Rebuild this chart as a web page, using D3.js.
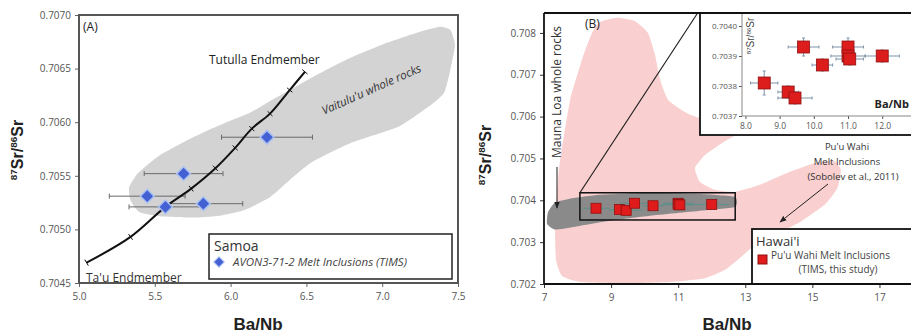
<!DOCTYPE html>
<html>
<head>
<meta charset="utf-8">
<script src="https://cdn.jsdelivr.net/npm/d3@7"></script>
<style>
  body { margin: 0; background: #fff; }
  svg text { font-family: "Open Sans", "Liberation Sans", sans-serif; }
</style>
</head>
<body>
<svg id="chart" width="911" height="335"></svg>
<script>
// ---- panel A : Samoa ----
const samoaBaNb = [6.24, 5.69, 5.45, 5.57, 5.82];
const samoaSr = [0.70586, 0.70552, 0.70531, 0.70521, 0.70524];
const samoaErr = [0.30, 0.26, 0.25, 0.24, 0.26];

// Ta'u -> Tutuila mixing line, read at the tick marks
const mixBaNb = [5.05, 5.34, 5.57, 5.74, 5.90, 6.03, 6.14, 6.26, 6.39, 6.49];
const mixSr = [0.70469, 0.70493, 0.70521, 0.70538, 0.70557, 0.70576, 0.70594, 0.70608, 0.70630, 0.70647];

// Vaitulu'u whole rock field outline
const vaiBaNb = [5.34, 5.33, 5.38, 5.45, 5.53, 5.71, 5.86, 6.01, 6.13, 6.24, 6.39, 6.54, 6.76, 7.03, 7.24, 7.38, 7.45, 7.48, 7.45, 7.41, 7.33, 7.11, 6.80, 6.54, 6.39, 6.26, 6.09, 5.94, 5.77, 5.55, 5.40];
const vaiSr = [0.70527, 0.70539, 0.70551, 0.70560, 0.70569, 0.70583, 0.70593, 0.70602, 0.70609, 0.70618, 0.70630, 0.70642, 0.70658, 0.70674, 0.70684, 0.70689, 0.70686, 0.70672, 0.70649, 0.70628, 0.70617, 0.70596, 0.70581, 0.70563, 0.70546, 0.70530, 0.70518, 0.70513, 0.70511, 0.70512, 0.70516];

const xTicksA = [5.0, 5.5, 6.0, 6.5, 7.0, 7.5];
const yTicksA = [0.7045, 0.7050, 0.7055, 0.7060, 0.7065, 0.7070];

// ---- panel B : Hawaii ----
const puuBaNb = [8.55, 9.25, 9.45, 9.70, 10.25, 11.0, 11.0, 11.05, 12.0];
const puuSr = [0.70381, 0.70378, 0.70376, 0.70393, 0.70387, 0.70393, 0.70390, 0.70389, 0.70390];
const puuErrX = [0.4, 0.3, 0.5, 0.45, 0.3, 0.45, 0.5, 0.4, 0.5];
const puuErrY = [0.00004, 0.00002, 0.00002, 0.00003, 0.00002, 0.00003, 0.00002, 0.00002, 0.00002];

// Pu'u Wahi melt inclusions (Sobolev et al., 2011) field
const sobBaNb = [8.67, 9.18, 9.71, 10.10, 10.31, 10.46, 10.70, 11.20, 11.65, 13.14, 13.14, 12.75, 12.31, 11.80, 11.50, 11.65, 12.10, 12.69, 13.44, 14.33, 15.10, 15.65, 15.85, 15.75, 15.40, 14.63, 13.89, 13.29, 12.84, 12.40, 11.80, 10.76, 9.27, 8.07, 7.54, 7.36, 7.33, 7.39, 7.48, 7.78, 8.16, 8.43];
const sobSr = [0.70826, 0.70836, 0.70828, 0.70800, 0.70747, 0.70688, 0.70640, 0.70611, 0.70597, 0.70587, 0.70556, 0.70556, 0.70537, 0.70508, 0.70477, 0.70444, 0.70425, 0.70420, 0.70437, 0.70468, 0.70490, 0.70494, 0.70473, 0.70430, 0.70392, 0.70348, 0.70317, 0.70293, 0.70262, 0.70234, 0.70214, 0.70205, 0.70202, 0.70205, 0.70219, 0.70257, 0.70329, 0.70425, 0.70496, 0.70640, 0.70743, 0.70800];

// Mauna Loa whole rock field
const mlBaNb = [7.12, 7.33, 7.78, 8.67, 10.16, 11.65, 12.69, 12.69, 11.65, 10.16, 8.97, 7.93, 7.33, 7.09];
const mlSr = [0.70372, 0.70395, 0.70404, 0.70413, 0.70418, 0.70415, 0.70408, 0.70384, 0.70375, 0.70363, 0.70351, 0.70337, 0.70330, 0.70344];

const zoomBoxBaNb = [8.07, 12.70];
const zoomBoxSr = [0.70353, 0.70418];

const xTicksB = [7, 9, 11, 13, 15, 17];
const yTicksB = [0.702, 0.703, 0.704, 0.705, 0.706, 0.707, 0.708];
const xTicksInset = [8, 9, 10, 11, 12];
const yTicksInset = [0.7037, 0.7038, 0.7039, 0.7040];

const svg = d3.select("#chart");

const defs = svg.append("defs");
defs.append("marker")
    .attr("id", "arrow")
    .attr("viewBox", "0 0 10 10")
    .attr("refX", 9).attr("refY", 5)
    .attr("markerWidth", 7).attr("markerHeight", 7)
    .attr("orient", "auto-start-reverse")
  .append("path")
    .attr("d", "M0,1 L10,5 L0,9 z")
    .attr("fill", "#222");

const styleAxis = (g, color) => {
    g.select(".domain").remove();
    g.selectAll(".tick line").attr("stroke", color);
    g.selectAll(".tick text")
        .attr("fill", "#555")
        .style("font-size", "10px");
}

const isoTitle = (g, x, y, size) => {
    const t = g.append("text")
        .attr("transform", `translate(${x},${y}) rotate(-90)`)
        .attr("text-anchor", "middle")
        .style("font-family", "Liberation Sans, Arial, sans-serif")
        .style("font-weight", "bold")
        .style("font-size", size + "px")
        .attr("fill", "#222");
    t.append("tspan").text("87").style("font-size", (size * 0.62) + "px").attr("dy", -size * 0.35);
    t.append("tspan").text("Sr/").attr("dy", size * 0.35);
    t.append("tspan").text("86").style("font-size", (size * 0.62) + "px").attr("dy", -size * 0.35);
    t.append("tspan").text("Sr").attr("dy", size * 0.35);
    return t;
}

const errorBars = (g, xs, ys, ex, ey, x, y, color, cap) => {
    xs.forEach((v, i) => {
        g.append("line")
            .attr("x1", x(v - ex[i])).attr("x2", x(v + ex[i]))
            .attr("y1", y(ys[i])).attr("y2", y(ys[i]))
            .attr("stroke", color).attr("stroke-width", 1);
        [v - ex[i], v + ex[i]].forEach(e => g.append("line")
            .attr("x1", x(e)).attr("x2", x(e))
            .attr("y1", y(ys[i]) - cap).attr("y2", y(ys[i]) + cap)
            .attr("stroke", color).attr("stroke-width", 1));
        if (ey) {
            g.append("line")
                .attr("x1", x(v)).attr("x2", x(v))
                .attr("y1", y(ys[i] - ey[i])).attr("y2", y(ys[i] + ey[i]))
                .attr("stroke", color).attr("stroke-width", 1);
            [ys[i] - ey[i], ys[i] + ey[i]].forEach(e => g.append("line")
                .attr("x1", x(v) - cap).attr("x2", x(v) + cap)
                .attr("y1", y(e)).attr("y2", y(e))
                .attr("stroke", color).attr("stroke-width", 1));
        }
    });
}

const fieldPath = (xs, ys, x, y) => d3.line()
    .x(d => x(d[0])).y(d => y(d[1]))
    .curve(d3.curveCardinalClosed.tension(0.5))(xs.map((v, i) => [v, ys[i]]));

const diamond = d3.symbol().type(d3.symbolSquare);

// ================= PANEL A =================
const drawPanelA = () => {
    const x = d3.scaleLinear().domain([5, 7.5]).range([79, 458]);
    const y = d3.scaleLinear().domain([0.7045, 0.7070]).range([283, 15]);
    const g = svg.append("g");

    g.append("g").attr("transform", "translate(0,283)")
        .call(d3.axisBottom(x).tickValues(xTicksA).tickFormat(d3.format(".1f")).tickSize(4).tickPadding(6))
        .call(a => styleAxis(a, "#666"));
    g.append("g").attr("transform", "translate(79,0)")
        .call(d3.axisLeft(y).tickValues(yTicksA).tickFormat(d3.format(".4f")).tickSize(4).tickPadding(4))
        .call(a => styleAxis(a, "#666"));

    g.append("path")
        .attr("d", fieldPath(vaiBaNb, vaiSr, x, y))
        .attr("fill", "#d3d3d3");

    g.append("text")
        .attr("transform", `translate(373,93) rotate(-24)`)
        .attr("text-anchor", "middle")
        .style("font-size", "11.5px").style("font-style", "italic")
        .attr("fill", "#333")
        .text("Vaitulu'u whole rocks");

    errorBars(g, samoaBaNb, samoaSr, samoaErr, null, x, y, "#6a6a6a", 2.5);

    const pts = mixBaNb.map((v, i) => [x(v), y(mixSr[i])]);
    g.append("path")
        .attr("d", d3.line().curve(d3.curveCatmullRom)(pts))
        .attr("fill", "none").attr("stroke", "#111").attr("stroke-width", 2);
    pts.forEach((p, i) => {
        const a = pts[Math.max(0, i - 1)], b = pts[Math.min(pts.length - 1, i + 1)];
        const ang = Math.atan2(b[1] - a[1], b[0] - a[0]);
        const nx = -Math.sin(ang) * 3.5, ny = Math.cos(ang) * 3.5;
        g.append("line")
            .attr("x1", p[0] - nx).attr("y1", p[1] - ny)
            .attr("x2", p[0] + nx).attr("y2", p[1] + ny)
            .attr("stroke", "#111").attr("stroke-width", 1);
    });

    g.selectAll(".dia").data(samoaBaNb).enter().append("path")
        .attr("transform", (d, i) => `translate(${x(d)},${y(samoaSr[i])}) rotate(45)`)
        .attr("d", diamond.size(95))
        .attr("fill", "#4461d4").attr("stroke", "#a9c0f2").attr("stroke-width", 1.5);

    g.append("text").attr("x", 209).attr("y", 64).style("font-size", "12px").attr("fill", "#222").text("Tutulla Endmember");
    g.append("text").attr("x", 86).attr("y", 282).style("font-size", "12px").attr("fill", "#333").text("Ta'u Endmember");
    g.append("text").attr("x", 83).attr("y", 31).style("font-size", "12px").attr("fill", "#222").text("(A)");

    // legend
    const lg = g.append("g");
    lg.append("rect").attr("x", 209).attr("y", 234).attr("width", 243).attr("height", 45)
        .attr("fill", "#fff").attr("stroke", "#222").attr("stroke-width", 1.5);
    lg.append("text").attr("x", 214).attr("y", 251).style("font-size", "14px").attr("fill", "#333").text("Samoa");
    lg.append("path").attr("transform", "translate(219,262) rotate(45)")
        .attr("d", diamond.size(55))
        .attr("fill", "#4461d4").attr("stroke", "#a9c0f2");
    lg.append("text").attr("x", 233).attr("y", 266).style("font-size", "11.5px").style("font-style", "italic")
        .attr("fill", "#444").text("AVON3-71-2 Melt Inclusions (TIMS)");

    g.append("rect").attr("x", 79).attr("y", 15).attr("width", 379).attr("height", 268)
        .attr("fill", "none").attr("stroke", "#555").attr("stroke-width", 2);

    isoTitle(g, 23, 150, 16);
    g.append("text").attr("x", 258).attr("y", 330).attr("text-anchor", "middle")
        .style("font-family", "Liberation Sans, Arial, sans-serif")
        .style("font-weight", "bold").style("font-size", "17px").attr("fill", "#222").text("Ba/Nb");
}

// ================= PANEL B =================
const drawPanelB = () => {
    const x = d3.scaleLinear().domain([7, 18]).range([544, 913]);
    const y = d3.scaleLinear().domain([0.702, 0.7085]).range([284, 12]);
    const g = svg.append("g");

    defs.append("clipPath").attr("id", "clipB")
        .append("rect").attr("x", 544).attr("y", 13).attr("width", 370).attr("height", 271);

    g.append("g").attr("transform", "translate(0,284)")
        .call(d3.axisBottom(x).tickValues(xTicksB).tickSize(4).tickPadding(6))
        .call(a => styleAxis(a, "#333"));
    g.append("g").attr("transform", "translate(544,0)")
        .call(d3.axisLeft(y).tickValues(yTicksB).tickFormat(d3.format(".3f")).tickSize(4).tickPadding(4))
        .call(a => styleAxis(a, "#333"));

    const plot = g.append("g").attr("clip-path", "url(#clipB)");
    plot.append("path").attr("d", fieldPath(sobBaNb, sobSr, x, y)).attr("fill", "#f9cfcf");
    plot.append("path").attr("d", fieldPath(mlBaNb, mlSr, x, y)).attr("fill", "#8a8a8a");

    errorBars(plot, puuBaNb, puuSr, puuErrX, null, x, y, "#5f8f8a", 0);
    plot.selectAll(".sq").data(puuBaNb).enter().append("rect")
        .attr("x", d => x(d) - 5).attr("y", (d, i) => y(puuSr[i]) - 5)
        .attr("width", 10).attr("height", 10)
        .attr("fill", "#e01b1b").attr("stroke", "#8e1212").attr("stroke-width", 0.8);

    plot.append("rect")
        .attr("x", x(zoomBoxBaNb[0])).attr("y", y(zoomBoxSr[1]))
        .attr("width", x(zoomBoxBaNb[1]) - x(zoomBoxBaNb[0]))
        .attr("height", y(zoomBoxSr[0]) - y(zoomBoxSr[1]))
        .attr("fill", "none").attr("stroke", "#111").attr("stroke-width", 1.5);
    plot.append("line")
        .attr("x1", x(zoomBoxBaNb[0])).attr("y1", y(zoomBoxSr[1]))
        .attr("x2", 697).attr("y2", 14)
        .attr("stroke", "#222").attr("stroke-width", 1.2);

    // inset
    const xi = d3.scaleLinear().domain([7.9, 12.9]).range([742, 913]);
    const yi = d3.scaleLinear().domain([0.7037, 0.70404]).range([116, 14]);
    const ins = g.append("g");
    ins.append("rect").attr("x", 700).attr("y", 13).attr("width", 220).attr("height", 122)
        .attr("fill", "#fff").attr("stroke", "#111").attr("stroke-width", 1.8);
    ins.append("g").attr("transform", "translate(0,116)")
        .call(d3.axisBottom(xi).tickValues(xTicksInset).tickSize(3).tickPadding(4))
        .call(a => styleAxis(a, "#555"))
        .call(a => a.selectAll(".tick text").style("font-size", "8.5px"));
    ins.append("g").attr("transform", "translate(742,0)")
        .call(d3.axisLeft(yi).tickValues(yTicksInset).tickFormat(d3.format(".4f")).tickSize(3).tickPadding(2))
        .call(a => styleAxis(a, "#555"))
        .call(a => a.selectAll(".tick text").style("font-size", "8px"));
    ins.append("line").attr("x1", 742).attr("x2", 742).attr("y1", 14).attr("y2", 116).attr("stroke", "#888");
    ins.append("line").attr("x1", 742).attr("x2", 913).attr("y1", 116).attr("y2", 116).attr("stroke", "#888");
    errorBars(ins, puuBaNb, puuSr, puuErrX, puuErrY, xi, yi, "#7d93a8", 1.5);
    ins.selectAll(".sqi").data(puuBaNb).enter().append("rect")
        .attr("x", d => xi(d) - 6).attr("y", (d, i) => yi(puuSr[i]) - 6)
        .attr("width", 12).attr("height", 12)
        .attr("fill", "#dd1c1c").attr("stroke", "#8e1212").attr("stroke-width", 0.8);
    isoTitle(ins, 754, 36, 10).style("font-weight", "normal").attr("fill", "#444");
    ins.append("text").attr("x", 909).attr("y", 108).attr("text-anchor", "end")
        .style("font-weight", "bold").style("font-size", "11px").attr("fill", "#222").text("Ba/Nb");

    // annotations
    g.append("text").attr("x", 585).attr("y", 28).style("font-size", "12px").attr("fill", "#222").text("(B)");
    g.append("text").attr("transform", "translate(561,92) rotate(-90)").attr("text-anchor", "middle")
        .style("font-size", "12px").attr("fill", "#333").text("Mauna Loa whole rocks");
    g.append("line").attr("x1", 557).attr("y1", 167).attr("x2", 557).attr("y2", 208)
        .attr("stroke", "#222").attr("stroke-width", 1).attr("marker-end", "url(#arrow)");

    const note = g.append("text").attr("text-anchor", "middle").style("font-size", "9.5px").attr("fill", "#333");
    note.append("tspan").attr("x", 847).attr("y", 150).text("Pu'u Wahi");
    note.append("tspan").attr("x", 847).attr("y", 165).text("Melt Inclusions");
    note.append("tspan").attr("x", 853).attr("y", 180).text("(Sobolev et al., 2011)");
    g.append("line").attr("x1", 828).attr("y1", 184).attr("x2", 780).attr("y2", 222)
        .attr("stroke", "#222").attr("stroke-width", 1).attr("marker-end", "url(#arrow)");

    const lg = g.append("g");
    lg.append("rect").attr("x", 752).attr("y", 229).attr("width", 170).attr("height", 55)
        .attr("fill", "#fff").attr("stroke", "#111").attr("stroke-width", 1.8);
    lg.append("text").attr("x", 756).attr("y", 246).style("font-size", "13px").attr("fill", "#333").text("Hawai'i");
    lg.append("rect").attr("x", 758).attr("y", 255).attr("width", 9).attr("height", 9)
        .attr("fill", "#e01b1b").attr("stroke", "#8e1212");
    lg.append("text").attr("x", 771).attr("y", 259).style("font-size", "10px").attr("fill", "#444").text("Pu'u Wahi Melt Inclusions");
    lg.append("text").attr("x", 838).attr("y", 273).attr("text-anchor", "middle").style("font-size", "10px").attr("fill", "#444").text("(TIMS, this study)");

    g.append("line").attr("x1", 544).attr("x2", 544).attr("y1", 13).attr("y2", 284).attr("stroke", "#111").attr("stroke-width", 1.8);
    g.append("line").attr("x1", 544).attr("x2", 911).attr("y1", 284).attr("y2", 284).attr("stroke", "#111").attr("stroke-width", 1.8);
    g.append("line").attr("x1", 544).attr("x2", 911).attr("y1", 13).attr("y2", 13).attr("stroke", "#111").attr("stroke-width", 1.8);

    isoTitle(g, 491, 155, 16);
    g.append("text").attr("x", 727).attr("y", 330).attr("text-anchor", "middle")
        .style("font-family", "Liberation Sans, Arial, sans-serif")
        .style("font-weight", "bold").style("font-size", "17px").attr("fill", "#222").text("Ba/Nb");
}

drawPanelA();
drawPanelB();
</script>
</body>
</html>
